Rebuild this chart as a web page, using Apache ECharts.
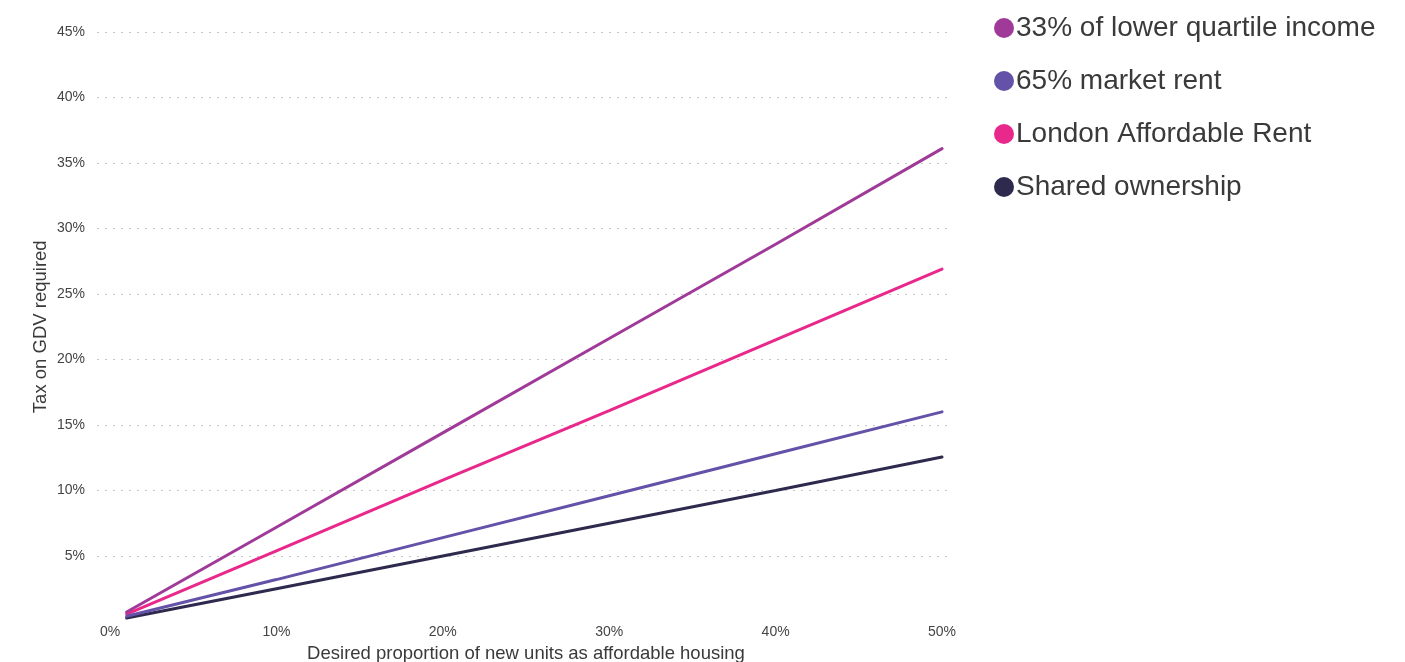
<!DOCTYPE html>
<html>
<head>
<meta charset="utf-8">
<script src="https://cdn.jsdelivr.net/npm/echarts@6/dist/echarts.min.js"></script>
<style>
html,body{margin:0;padding:0;background:#fff;}
#chart{width:1405px;height:662px;}
</style>
</head>
<body>
<div id="chart"></div>
<script>
// Data
const xValues = [1, 10, 20, 30, 40, 50];               // desired proportion (%)
const lowerQuartile = [0.72, 7.2, 14.4, 21.6, 28.8, 36.1]; // 33% of lower quartile income
const marketRent65 = [0.40, 3.2, 6.4, 9.6, 12.8, 16.0];    // 65% market rent
const londonAffordable = [0.57, 5.4, 10.8, 16.1, 21.5, 26.9]; // London Affordable Rent
const sharedOwnership = [0.27, 2.5, 5.0, 7.5, 10.0, 12.55];   // Shared ownership
const xTicks = [0, 10, 20, 30, 40, 50];
const yTicks = [5, 10, 15, 20, 25, 30, 35, 40, 45];

const seriesNames = ['33% of lower quartile income', '65% market rent', 'London Affordable Rent', 'Shared ownership'];
const seriesData = [lowerQuartile, marketRent65, londonAffordable, sharedOwnership];
const colors = ['#a03a98', '#6451a8', '#e8288a', '#2d2a4e'];

const chart = echarts.init(document.getElementById('chart'));
const font = '"Liberation Sans", Arial, sans-serif';

chart.setOption({
  animation: false,
  textStyle: { fontFamily: font },
  legend: {
    data: seriesNames,
    orient: 'vertical',
    left: 989,
    top: 7,
    icon: 'circle',
    itemWidth: 20,
    itemHeight: 20,
    itemGap: 21,
    textStyle: { fontSize: 28, color: '#3a3a3a', fontFamily: font, padding: [0, 0, 0, -3], lineHeight: 32 }
  },
  grid: [
    { left: 97, right: 455, top: 32, bottom: 106, outerBoundsMode: 'none', containLabel: false },
    { left: 110, right: 463, top: 32, bottom: 40.5, outerBoundsMode: 'none', containLabel: false }
  ],
  xAxis: [
    { gridIndex: 0, type: 'value', min: 0, max: 1, show: false },
    {
      gridIndex: 1, type: 'value', min: xTicks[0], max: xTicks[xTicks.length - 1], interval: 10,
      name: 'Desired proportion of new units as affordable housing',
      nameLocation: 'middle', nameGap: 22,
      nameTextStyle: { fontSize: 18.5, color: '#3a3a3a', fontFamily: font },
      axisLine: { show: false }, axisTick: { show: false }, splitLine: { show: false },
      axisLabel: { formatter: v => v + '%', fontSize: 14, color: '#444', margin: 4, fontFamily: font }
    }
  ],
  yAxis: [
    {
      gridIndex: 0, type: 'value', min: yTicks[0], max: yTicks[yTicks.length - 1], interval: 5,
      axisLine: { show: false }, axisTick: { show: false },
      splitLine: { show: true, lineStyle: { type: [2, 6], color: '#c8c8c8', width: 1 } },
      axisLabel: { formatter: v => v + '%', fontSize: 14, color: '#444', margin: 12, fontFamily: font }
    },
    {
      gridIndex: 1, type: 'value', min: 0, max: 45, interval: 5,
      name: 'Tax on GDV required', nameLocation: 'middle', nameGap: 60, nameRotate: 90,
      nameTextStyle: { fontSize: 18.5, color: '#3a3a3a', fontFamily: font },
      axisLine: { show: false }, axisTick: { show: false }, splitLine: { show: false },
      axisLabel: { show: false }
    }
  ],
  series: seriesNames.map((name, i) => ({
    name: name,
    type: 'line',
    xAxisIndex: 1,
    yAxisIndex: 1,
    data: xValues.map((x, j) => [x, seriesData[i][j]]),
    showSymbol: false,
    symbol: 'circle',
    color: colors[i],
    lineStyle: { width: 3, color: colors[i], cap: 'round' },
    z: 10 - i
  }))
});
</script>
</body>
</html>
